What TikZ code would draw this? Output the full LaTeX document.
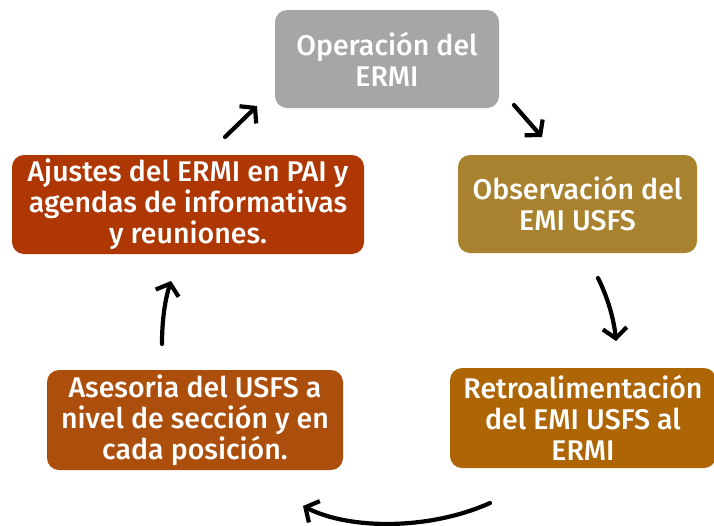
\documentclass[tikz,border=0pt]{standalone}
\usepackage{fontspec}
\setmainfont{Fira Sans}[UprightFont={* Medium}]
\usetikzlibrary{arrows.meta}
\definecolor{cgray}{HTML}{A6A6A6}
\definecolor{cobs}{HTML}{A8822F}
\definecolor{cret}{HTML}{AD6505}
\definecolor{cases}{HTML}{AD4F0C}
\definecolor{caju}{HTML}{AE3703}
\tikzset{
  box/.style={rounded corners=12pt, inner sep=0pt, text=white, align=center,
    font=\fontsize{28.5}{31}\selectfont},
  arr/.style={line width=4.2pt, line cap=round,
    -{Straight Barb[length=10pt,width=24pt,line width=4.2pt]}}
}
\begin{document}
\begin{tikzpicture}[x=1pt,y=-1pt]
\useasboundingbox (0,0) rectangle (714,525);
\node[box, fill=cgray, minimum width=224pt, minimum height=98pt] (op) at (387,59) {Operación del\\ERMI};
\node[box, fill=cobs, minimum width=239pt, minimum height=98pt] (obs) at (577.5,204) {Observación del\\EMI USFS};
\node[box, fill=cret, minimum width=266pt, minimum height=100pt] (ret) at (583,418) {Retroalimentación\\del EMI USFS al\\ERMI};
\node[box, fill=cases, minimum width=296pt, minimum height=100pt] (ase) at (195,420) {Asesoria del USFS a\\nivel de sección y en\\cada posición.};
\node[box, fill=caju, minimum width=352pt, minimum height=99pt] (aju) at (188,204.5) {Ajustes del ERMI en PAI y\\agendas de informativas\\y reuniones.};
\coordinate (a1s) at (225,137); \coordinate (a1e) at (257,106);
\coordinate (a2s) at (514,105); \coordinate (a2e) at (542,137);
\coordinate (a3s) at (598,278); \coordinate (a3e) at (616,341);
\coordinate (a4s) at (490,503); \coordinate (a4e) at (303,506);
\coordinate (a5s) at (162,344); \coordinate (a5e) at (171,281);
\draw[arr] (a1s) -- (a1e);
\draw[arr] (a2s) -- (a2e);
\draw[arr] (a3s) .. controls (608,298) and (614,320) .. (a3e);
\draw[arr] (a4s) .. controls (430,530) and (350,530) .. (a4e);
\draw[arr] (a5s) .. controls (162,320) and (165,300) .. (a5e);
\end{tikzpicture}
\end{document}
